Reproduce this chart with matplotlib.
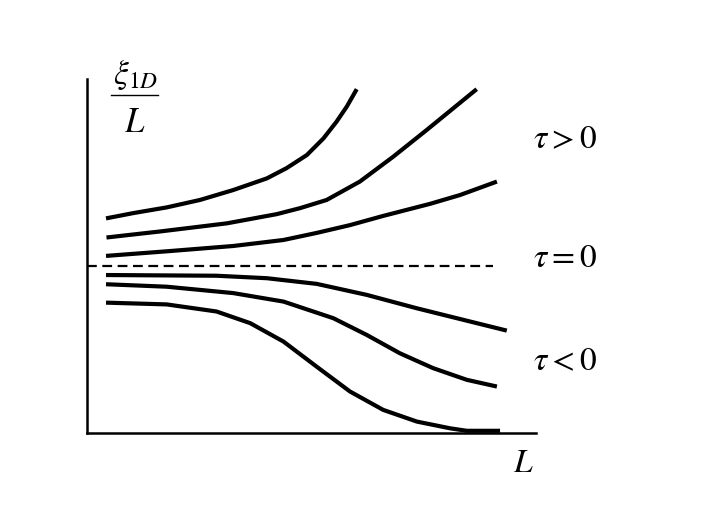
"""Sketch of xi_1D / L versus L for tau > 0, tau = 0 and tau < 0."""

import matplotlib.pyplot as plt
from matplotlib.lines import Line2D

plt.rcParams["mathtext.fontset"] = "stix"
plt.rcParams["font.family"] = "STIXGeneral"

# curves (axis units: 0..10 on both axes)
pos1_L = [0.43, 1.04, 1.78, 2.52, 3.26, 4.01, 4.45, 4.90, 5.27, 5.56, 5.79, 6.01]
pos1_xi = [6.07, 6.22, 6.38, 6.59, 6.87, 7.20, 7.49, 7.86, 8.33, 8.80, 9.23, 9.72]

pos2_L = [0.44, 1.63, 3.12, 4.23, 4.75, 5.34, 6.08, 6.82, 7.57, 8.68]
pos2_xi = [5.53, 5.70, 5.93, 6.19, 6.36, 6.59, 7.11, 7.81, 8.57, 9.72]

pos3_L = [0.43, 1.78, 3.26, 4.38, 5.12, 5.86, 6.60, 7.64, 8.31, 9.13]
pos3_xi = [5.01, 5.14, 5.29, 5.46, 5.66, 5.88, 6.14, 6.48, 6.73, 7.11]

crit_L = [0.0, 9.05]
crit_xi = [4.73, 4.73]

neg1_L = [0.43, 2.89, 4.01, 5.12, 6.23, 7.35, 8.46, 9.35]
neg1_xi = [4.47, 4.45, 4.38, 4.22, 3.91, 3.53, 3.18, 2.90]

neg2_L = [0.43, 1.78, 3.26, 4.38, 5.49, 6.23, 6.97, 7.71, 8.46, 9.13]
neg2_xi = [4.21, 4.14, 3.96, 3.72, 3.25, 2.78, 2.26, 1.84, 1.51, 1.32]

neg3_L = [0.43, 1.78, 2.89, 3.64, 4.38, 5.12, 5.86, 6.60, 7.35, 8.09, 8.46, 9.20]
neg3_xi = [3.69, 3.64, 3.44, 3.11, 2.59, 1.88, 1.18, 0.66, 0.33, 0.14, 0.07, 0.07]

labels = [r"$\tau > 0$", r"$\tau = 0$", r"$\tau < 0$"]
label_y = [8.05, 4.69, 1.77]

fig = plt.figure(figsize=(7.06, 5.28), dpi=100)
ax = fig.add_axes([0.1228, 0.1794, 0.6364, 0.6705])

for xs, ys in [(pos1_L, pos1_xi), (pos2_L, pos2_xi), (pos3_L, pos3_xi),
               (neg1_L, neg1_xi), (neg2_L, neg2_xi), (neg3_L, neg3_xi)]:
    ax.plot(xs, ys, color="black", linewidth=3, solid_capstyle="butt",
            solid_joinstyle="round", clip_on=False)

ax.plot(crit_L, crit_xi, color="black", linewidth=1.6,
        linestyle=(0, (4.4, 2.5)), clip_on=False)

for lab, yy in zip(labels, label_y):
    ax.text(9.93, yy, lab, fontsize=24, ha="left", va="baseline")

# y-axis label written as a stacked fraction
fig.text(0.1915, 0.8258, r"$\xi_{1D}$", fontsize=24, ha="center", va="bottom")
fig.add_artist(Line2D([0.1572, 0.2242], [0.8201, 0.8201], color="black",
                      linewidth=1.0, transform=fig.transFigure))
fig.text(0.1905, 0.7955, r"$L$", fontsize=25, ha="center", va="top")

ax.text(9.48, -1.085, r"$L$", fontsize=24, ha="left", va="baseline")

ax.set_xlim(0, 10)
ax.set_ylim(0, 10)
ax.spines["top"].set_visible(False)
ax.spines["right"].set_visible(False)
for side in ["left", "bottom"]:
    ax.spines[side].set_linewidth(1.8)
ax.set_xticks([])
ax.set_yticks([])

fig.savefig("out.png", dpi=100, facecolor="white")
